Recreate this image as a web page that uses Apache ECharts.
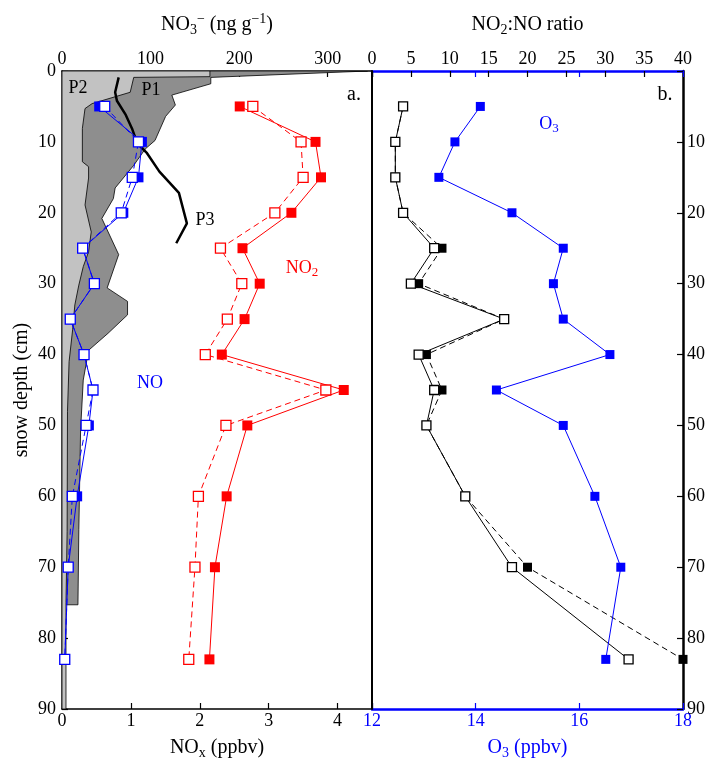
<!DOCTYPE html>
<html><head><meta charset="utf-8">
<script src="https://cdn.jsdelivr.net/npm/echarts@6/dist/echarts.min.js"></script>
<style>html,body{margin:0;padding:0;background:#fff}#c{width:709px;height:760px}</style>
</head><body><div id="c"></div>
<script>
// ---- data ----
const depths = [5,10,15,20,25,30,35,40,45,50,60,70,83];
const no2Filled = [2.58,3.68,3.76,3.33,2.62,2.87,2.65,2.32,4.09,2.69,2.39,2.22,2.14];
const no2Open   = [2.77,3.47,3.50,3.09,2.30,2.61,2.40,2.08,3.83,2.38,1.98,1.93,1.84];
const noFilled  = [0.54,1.16,1.11,0.89,0.30,0.47,0.12,0.32,0.45,0.39,0.22,0.09,0.04];
const noOpen    = [0.62,1.11,1.02,0.86,0.30,0.47,0.12,0.32,0.45,0.35,0.15,0.09,0.04];
const ratioOpen   = [4,3,3,4,8,5,17,6,8,7,12,18,33];
const ratioFilled = [4,3,3,4,9,6,17,7,9,7,12,20,40];
const o3Values = [14.09,13.60,13.29,14.70,15.69,15.50,15.69,16.59,14.40,15.69,16.30,16.80,16.51];
// nitrate profiles [NO3 ng/g, depth cm]
const p1Profile = [[345,0],[168,0.9],[168,1.8],[124,3.4],[128,4.8],[117,6.4],[105,9.8],[94,11.0],[81,13.3],[60,16.5],[58,18.0],[45,20.8],[64,25.9],[51,30.6],[74,32.5],[74,34.4],[52,37.0],[30,39.4],[24,43.6],[21,50.6],[19,64.7],[18,75.3]];
const p2Profile = [[167,0],[167,0.8],[81,0.9],[77,3.0],[34,4.6],[26,5.3],[23,8.1],[23,12.8],[30,13.5],[30,15.1],[26,18.9],[33,22.7],[30,25.5],[24,27.6],[19,30.2],[14.5,33],[12,36.5],[8,41],[6.2,48],[5.8,65],[4.5,75],[4.5,90]];
const p3Profile = [[64,0.9],[60,3.0],[62,4.2],[72,6.2],[79,8.1],[85,10.2],[96,11.6],[110,14.2],[132,17.2],[141,21.5],[129,24.3]];
// tick labels
const noxTicks = [0,1,2,3,4];
const no3Ticks = [0,100,200,300];
const ratioTicks = [0,5,10,15,20,25,30,35,40];
const o3Ticks = [12,14,16,18];
const depthTicksLeft = [0,10,20,30,40,50,60,70,80,90];
const depthTicksRight = [10,20,30,40,50,60,70,80,90];

// ---- chart ----
const FONT = "'Liberation Serif','DejaVu Serif',serif";
const BLUE = '#0000ff', RED = '#ff0000';
const zip = (xs) => xs.map((v, i) => [v, depths[i]]);
const fmt = (list) => (v) => list.includes(+(+v).toFixed(6)) ? String(v) : '';
const sub = {fontSize: 14, fontFamily: FONT, padding: [11, 0, 0, 0]};
const sup = {fontSize: 14, fontFamily: FONT, padding: [0, 0, 11, 0]};

function polySeries(name, pts, fill) {
  return {
    type: 'custom', name: name, xAxisIndex: 1, yAxisIndex: 0, clip: true, z: 1,
    data: pts, encode: {x: 0, y: 1}, silent: true,
    renderItem: function (params, api) {
      if (params.dataIndex !== 0) return null;
      const all = [[0, pts[0][1]]].concat(pts).concat([[0, pts[pts.length - 1][1]]]);
      return {type: 'polygon', shape: {points: all.map(p => api.coord(p))},
        style: {fill: fill, stroke: '#000', lineWidth: 0.8}};
    }
  };
}
function lineSeries(name, xi, yi, data, color, filled, dashed, size) {
  return {
    type: 'line', name: name, xAxisIndex: xi, yAxisIndex: yi, data: data, clip: false,
    symbol: 'rect', symbolSize: size, showAllSymbol: true,
    itemStyle: filled ? {color: color} : {color: '#fff', borderColor: color, borderWidth: 1.3},
    lineStyle: {color: color, width: 1, type: dashed ? [6, 4] : 'solid'},
    emphasis: {disabled: true}, z: 3
  };
}
const axisFont = {fontFamily: FONT, fontSize: 18, color: '#000'};

const option = {
  animation: false,
  backgroundColor: '#fff',
  grid: [
    {left: 62, top: 71, width: 310, height: 638, outerBoundsMode: 'none', containLabel: false},
    {left: 372, top: 71, width: 311, height: 638, outerBoundsMode: 'none', containLabel: false}
  ],
  xAxis: [
    { // 0 NOx bottom
      gridIndex: 0, type: 'value', position: 'bottom', min: 0, max: 4.5, interval: 1,
      axisLine: {show: true, onZero: false, lineStyle: {color: '#000', width: 1.5}},
      axisTick: {show: true, inside: true, length: 6, lineStyle: {color: '#000', width: 1.2}},
      axisLabel: Object.assign({formatter: fmt(noxTicks), margin: 3}, axisFont),
      splitLine: {show: false},
      name: 'NO{s|x} (ppbv)', nameLocation: 'middle', nameGap: 26,
      nameTextStyle: {fontFamily: FONT, fontSize: 20, color: '#000', rich: {s: sub}}
    },
    { // 1 NO3 top
      gridIndex: 0, type: 'value', position: 'top', min: 0, max: 350, interval: 100,
      axisLine: {show: true, onZero: false, lineStyle: {color: '#000', width: 1.5}},
      axisTick: {show: true, inside: true, length: 6, lineStyle: {color: '#000', width: 1.2}},
      axisLabel: Object.assign({formatter: fmt(no3Ticks), margin: 3}, axisFont),
      splitLine: {show: false},
      name: 'NO{s|3}{p|−} (ng g{p|−1})', nameLocation: 'middle', nameGap: 34,
      nameTextStyle: {fontFamily: FONT, fontSize: 20, color: '#000', rich: {s: sub, p: sup}}
    },
    { // 2 ratio top
      gridIndex: 1, type: 'value', position: 'top', min: 0, max: 40, interval: 5,
      axisLine: {show: true, onZero: false, lineStyle: {color: BLUE, width: 2.5}},
      axisTick: {show: true, inside: true, length: 6, lineStyle: {color: '#000', width: 1.2}},
      axisLabel: Object.assign({formatter: fmt(ratioTicks), margin: 3}, axisFont),
      splitLine: {show: false},
      name: 'NO{s|2}:NO ratio', nameLocation: 'middle', nameGap: 34,
      nameTextStyle: {fontFamily: FONT, fontSize: 20, color: '#000', rich: {s: sub}}
    },
    { // 3 O3 bottom
      gridIndex: 1, type: 'value', position: 'bottom', min: 12, max: 18, interval: 2,
      axisLine: {show: true, onZero: false, lineStyle: {color: BLUE, width: 2.5}},
      axisTick: {show: true, inside: true, length: 6, lineStyle: {color: BLUE, width: 1.2}},
      axisLabel: {formatter: fmt(o3Ticks), margin: 3, fontFamily: FONT, fontSize: 18, color: BLUE},
      splitLine: {show: false},
      name: 'O{s|3} (ppbv)', nameLocation: 'middle', nameGap: 26,
      nameTextStyle: {fontFamily: FONT, fontSize: 20, color: BLUE, rich: {s: Object.assign({}, sub, {color: BLUE})}}
    },
    { // 4 O3 mirror ticks at top
      gridIndex: 1, type: 'value', position: 'top', min: 12, max: 18, interval: 2,
      axisLine: {show: false},
      axisTick: {show: true, inside: true, length: 6, lineStyle: {color: BLUE, width: 1.2}},
      axisLabel: {show: false}, splitLine: {show: false}
    }
  ],
  yAxis: [
    { // 0 depth left panel
      gridIndex: 0, type: 'value', inverse: true, min: 0, max: 90, interval: 10, position: 'left',
      axisLine: {show: true, onZero: false, lineStyle: {color: '#000', width: 1.5}},
      axisTick: {show: true, inside: true, length: 6, lineStyle: {color: '#000', width: 1.2}},
      axisLabel: Object.assign({formatter: fmt(depthTicksLeft), margin: 6}, axisFont),
      splitLine: {show: false},
      name: 'snow depth (cm)', nameLocation: 'middle', nameGap: 30,
      nameTextStyle: {fontFamily: FONT, fontSize: 20, color: '#000'}
    },
    { // 1 depth right panel, right side
      gridIndex: 1, type: 'value', inverse: true, min: 0, max: 90, interval: 10, position: 'right',
      axisLine: {show: true, onZero: false, lineStyle: {color: '#000', width: 2.5}},
      axisTick: {show: true, inside: true, length: 6, lineStyle: {color: '#000', width: 1.2}},
      axisLabel: Object.assign({formatter: fmt(depthTicksRight), margin: 4}, axisFont),
      splitLine: {show: false}
    },
    { // 2 right panel left border
      gridIndex: 1, type: 'value', inverse: true, min: 0, max: 90, interval: 10, position: 'left',
      z: 10,
      axisLine: {show: true, onZero: false, lineStyle: {color: '#000', width: 2}},
      axisTick: {show: false}, axisLabel: {show: false}, splitLine: {show: false}
    }
  ],
  graphic: [
    {type: 'text', x: 78, y: 88, z: 100, style: {text: 'P2', font: '18px ' + FONT, fill: '#000', align: 'center', verticalAlign: 'middle'}},
    {type: 'text', x: 151, y: 90, z: 100, style: {text: 'P1', font: '18px ' + FONT, fill: '#000', align: 'center', verticalAlign: 'middle'}},
    {type: 'text', x: 205, y: 220, z: 100, style: {text: 'P3', font: '18px ' + FONT, fill: '#000', align: 'center', verticalAlign: 'middle'}},
    {type: 'text', x: 354, y: 95, z: 100, style: {text: 'a.', font: '20px ' + FONT, fill: '#000', align: 'center', verticalAlign: 'middle'}},
    {type: 'text', x: 665, y: 95, z: 100, style: {text: 'b.', font: '20px ' + FONT, fill: '#000', align: 'center', verticalAlign: 'middle'}},
    {type: 'text', x: 302, y: 268, z: 100, style: {text: 'NO{s|2}', font: '18px ' + FONT, fill: RED, align: 'center', verticalAlign: 'middle',
      rich: {s: {fontSize: 13, fontFamily: FONT, fill: RED, padding: [10, 0, 0, 0]}}}},
    {type: 'text', x: 150, y: 383, z: 100, style: {text: 'NO', font: '18px ' + FONT, fill: BLUE, align: 'center', verticalAlign: 'middle'}},
    {type: 'text', x: 549, y: 124, z: 100, style: {text: 'O{s|3}', font: '18px ' + FONT, fill: BLUE, align: 'center', verticalAlign: 'middle',
      rich: {s: {fontSize: 13, fontFamily: FONT, fill: BLUE, padding: [10, 0, 0, 0]}}}}
  ],
  series: [
    polySeries('P1', p1Profile, '#8e8e8e'),
    polySeries('P2', p2Profile, '#c2c2c2'),
    {type: 'line', name: 'P3', xAxisIndex: 1, yAxisIndex: 0, data: p3Profile, showSymbol: false,
      lineStyle: {color: '#000', width: 2.5}, z: 2, emphasis: {disabled: true}},
    lineSeries('NO filled', 0, 0, zip(noFilled), BLUE, true, false, 10),
    lineSeries('NO open', 0, 0, zip(noOpen), BLUE, false, true, 10),
    lineSeries('NO2 filled', 0, 0, zip(no2Filled), RED, true, false, 10),
    lineSeries('NO2 open', 0, 0, zip(no2Open), RED, false, true, 10),
    lineSeries('ratio filled', 2, 1, zip(ratioFilled), '#000', true, true, 9),
    lineSeries('ratio open', 2, 1, zip(ratioOpen), '#000', false, false, 9),
    lineSeries('O3', 3, 1, zip(o3Values), BLUE, true, false, 9)
  ]
};
const chart = echarts.init(document.getElementById('c'), null, {renderer: 'canvas'});
chart.setOption(option);
</script></body></html>
